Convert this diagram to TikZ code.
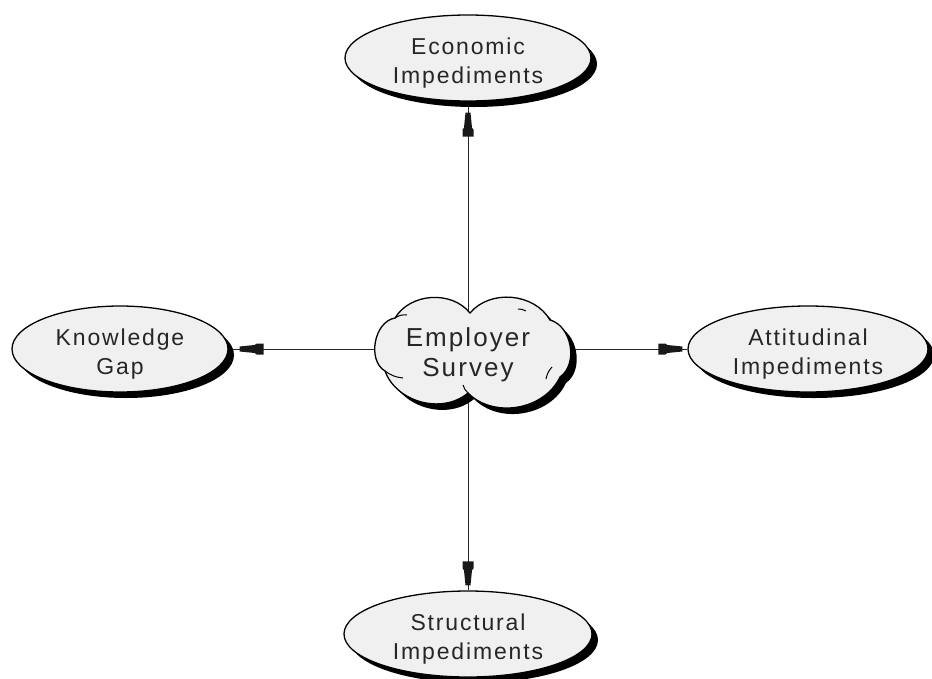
\documentclass[tikz,border=0pt]{standalone}
\usepackage{fontspec}
\setmainfont{Liberation Sans}[LetterSpace=8]
\usetikzlibrary{shapes.geometric,shadows,decorations.markings}

\pgfdeclarelayer{links}
\pgfdeclarelayer{cloudfill}
\pgfsetlayers{links,cloudfill,main}

% struts that lower two-line labels inside their shapes
\newcommand\toplinestrut{\rule{0pt}{26pt}}
\newcommand\hubstrut{\rule{0pt}{31pt}}

% outline of the cloud around the central topic, relative to its centre
\newcommand\esoutline{(-73,-31) to[bend left=55] (2,-36) to[bend left=55] (82,-29)
  to[bend left=65] (92,28) to[bend left=55] (0,44) to[bend left=55] (-83,22)
  to[bend left=70] (-73,-31) -- cycle}

\tikzset{
  topic/.style={ellipse, draw=black, line width=1.3pt, fill=black!6, text=black!85,
    align=center, font=\fontsize{23}{29}\selectfont, inner sep=0pt, minimum height=86pt,
    drop shadow={shadow xshift=6pt, shadow yshift=-6pt, fill=black, opacity=1}},
  hub/.style={align=center, text=black!85, font=\fontsize{26}{30}\selectfont,
    minimum width=190pt, minimum height=90pt},
  puff/.style={draw=black, line width=1pt},
  link/.style={draw=black!85, line width=1pt, postaction={decorate},
    decoration={markings, mark=at position #1 with {
      \fill[black!90] (0pt,-2.5pt) -- (-15pt,-4pt) -- (-17pt,-5.5pt) -- (-24pt,-5.5pt)
        -- (-24pt,5.5pt) -- (-17pt,5.5pt) -- (-15pt,4pt) -- (0pt,2.5pt) -- cycle;}}},
}

\begin{document}
\begin{tikzpicture}[x=1pt, y=-1pt]
\useasboundingbox (0,0) rectangle (932,678);

\node[topic, minimum width=246pt] (eco) at (468,58) {\toplinestrut Economic\\Impediments};
\node[topic, minimum width=216pt] (kg) at (120,349) {\toplinestrut Knowledge\\Gap};
\node[topic, minimum width=240pt] (att) at (808,349) {\toplinestrut Attitudinal\\Impediments};
\node[topic, minimum width=248pt] (str) at (468,634) {\toplinestrut Structural\\Impediments};
\node[hub] (es) at (468,349) {\hubstrut Employer\\Survey};

\begin{pgfonlayer}{links}
  \draw[link=-11pt] (es.center) -- (eco);
  \draw[link=-11pt] (es.center) -- (kg);
  \draw[link=-5pt] (es.center) -- (att);
  \draw[link=-5pt] (es.center) -- (str);
\end{pgfonlayer}

\begin{pgfonlayer}{cloudfill}
  \fill[black, shift={(es.center)}, xshift=6pt, yshift=-6pt] \esoutline;
  \filldraw[fill=black!6, draw=black, line width=1.3pt, shift={(es.center)}] \esoutline;
  % short strokes where the puffs of the cloud meet
  \begin{scope}[shift={(es.center)}]
    \draw[puff] (-73,-31) to[bend left=20] (-61,-34);
    \draw[puff] (-83,22) to[bend right=15] (-65,29);
    \draw[puff] (0,44) to[bend left=15] (-5,36);
    \draw[puff] (84,18) to[bend right=15] (78,30);
    \draw[puff] (50,-40) to[bend left=15] (58,-38);
  \end{scope}
\end{pgfonlayer}
\end{tikzpicture}
\end{document}
